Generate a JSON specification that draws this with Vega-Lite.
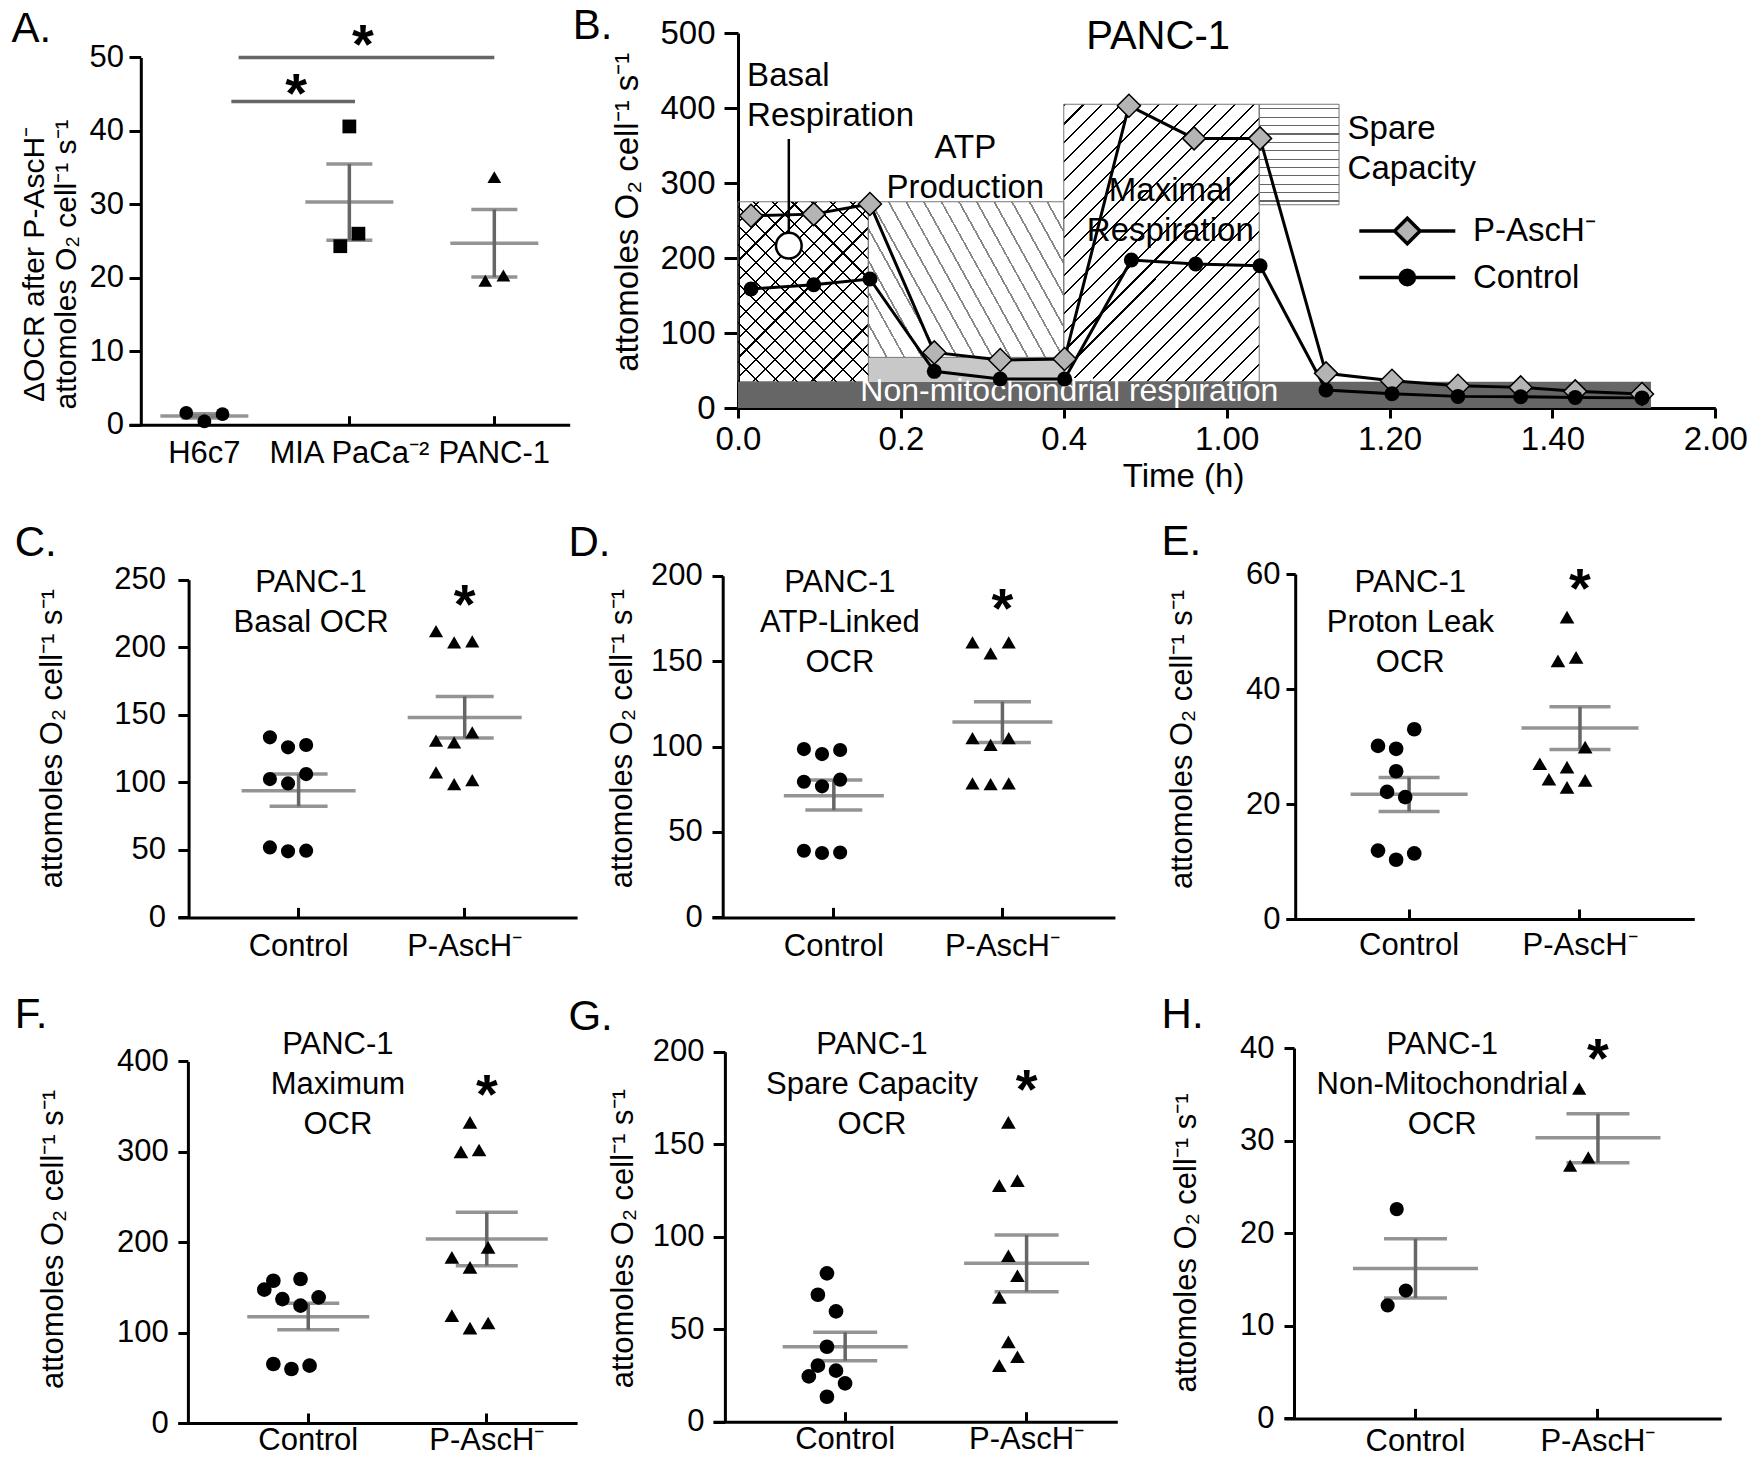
{
"$schema": "https://vega.github.io/schema/vega-lite/v6.json",
"background": "white",
"padding": {"left": 11, "top": 5, "right": 0, "bottom": 0},
"autosize": {"type": "pad"},
"config": {
 "font": "Liberation Sans",
 "view": {"stroke": null},
 "axis": {"domainColor": "#000", "domainWidth": 3, "tickColor": "#000", "tickWidth": 3, "labelColor": "#000", "titleColor": "#000", "labelFont": "Liberation Sans", "titleFont": "Liberation Sans", "titleFontWeight": "normal", "labelFontSize": 31, "titleFontSize": 31, "grid": false, "labelFlush": false, "labelOverlap": false, "labelBound": false, "labelAngle": 0},
 "axisY": {"titleAngle": -90, "titleAlign": "center", "titleBaseline": "alphabetic"},
 "axisX": {"titleBaseline": "alphabetic"},
 "title": {"font": "Liberation Sans", "fontSize": 42, "fontWeight": "normal", "color": "#000", "anchor": "start", "frame": "group", "baseline": "alphabetic"},
 "text": {"font": "Liberation Sans", "color": "#000"}
},
"resolve": {"scale": {"shape": "independent", "fill": "independent", "stroke": "independent"}, "legend": {"shape": "independent", "fill": "independent", "stroke": "independent"}},
"datasets": {
 "scatter": [
  {"panel":"A","group":"H6c7","col":-2,"value":1.6},
  {"panel":"A","group":"H6c7","col":0,"value":0.45},
  {"panel":"A","group":"H6c7","col":2,"value":1.45},
  {"panel":"A","group":"MIA PaCa⁻²","col":0,"value":40.6},
  {"panel":"A","group":"MIA PaCa⁻²","col":-1,"value":24.3},
  {"panel":"A","group":"MIA PaCa⁻²","col":1,"value":26.0},
  {"panel":"A","group":"PANC-1","col":0,"value":33.7},
  {"panel":"A","group":"PANC-1","col":-1,"value":19.6},
  {"panel":"A","group":"PANC-1","col":1,"value":20.3},
  {"panel":"C","group":"Control","col":-2,"value":133.3},
  {"panel":"C","group":"Control","col":0,"value":125.9},
  {"panel":"C","group":"Control","col":2,"value":127.6},
  {"panel":"C","group":"Control","col":-2,"value":102.4},
  {"panel":"C","group":"Control","col":0,"value":99.2},
  {"panel":"C","group":"Control","col":2,"value":106.1},
  {"panel":"C","group":"Control","col":-2,"value":51.8},
  {"panel":"C","group":"Control","col":0,"value":48.9},
  {"panel":"C","group":"Control","col":2,"value":49.4},
  {"panel":"C","group":"P-AscH⁻","col":-2,"value":212},
  {"panel":"C","group":"P-AscH⁻","col":0,"value":203.6},
  {"panel":"C","group":"P-AscH⁻","col":2,"value":204.3},
  {"panel":"C","group":"P-AscH⁻","col":-2,"value":130.8},
  {"panel":"C","group":"P-AscH⁻","col":0,"value":129.6},
  {"panel":"C","group":"P-AscH⁻","col":2,"value":137},
  {"panel":"C","group":"P-AscH⁻","col":-2,"value":107.4},
  {"panel":"C","group":"P-AscH⁻","col":0,"value":98.7},
  {"panel":"C","group":"P-AscH⁻","col":2,"value":101.7},
  {"panel":"D","group":"Control","col":-2,"value":98.5},
  {"panel":"D","group":"Control","col":0,"value":95.6},
  {"panel":"D","group":"Control","col":2,"value":98},
  {"panel":"D","group":"Control","col":-2,"value":79.4},
  {"panel":"D","group":"Control","col":0,"value":76.7},
  {"panel":"D","group":"Control","col":2,"value":80.6},
  {"panel":"D","group":"Control","col":-2,"value":39},
  {"panel":"D","group":"Control","col":0,"value":37.7},
  {"panel":"D","group":"Control","col":2,"value":38},
  {"panel":"D","group":"P-AscH⁻","col":-2,"value":161},
  {"panel":"D","group":"P-AscH⁻","col":0,"value":154.5},
  {"panel":"D","group":"P-AscH⁻","col":2,"value":161},
  {"panel":"D","group":"P-AscH⁻","col":-2,"value":105},
  {"panel":"D","group":"P-AscH⁻","col":0,"value":101},
  {"panel":"D","group":"P-AscH⁻","col":2,"value":105},
  {"panel":"D","group":"P-AscH⁻","col":-2,"value":78.4},
  {"panel":"D","group":"P-AscH⁻","col":0,"value":78},
  {"panel":"D","group":"P-AscH⁻","col":2,"value":78.4},
  {"panel":"E","group":"Control","col":-2,"value":30.1},
  {"panel":"E","group":"Control","col":0,"value":29.6},
  {"panel":"E","group":"Control","col":2,"value":33.0},
  {"panel":"E","group":"Control","col":0,"value":25.7},
  {"panel":"E","group":"Control","col":-1,"value":22.1},
  {"panel":"E","group":"Control","col":1,"value":21.2},
  {"panel":"E","group":"Control","col":-2,"value":11.9},
  {"panel":"E","group":"Control","col":0,"value":10.3},
  {"panel":"E","group":"Control","col":2,"value":11.4},
  {"panel":"E","group":"P-AscH⁻","col":0,"value":52.5},
  {"panel":"E","group":"P-AscH⁻","col":-1,"value":44.9},
  {"panel":"E","group":"P-AscH⁻","col":1,"value":45.5},
  {"panel":"E","group":"P-AscH⁻","col":2,"value":29.9},
  {"panel":"E","group":"P-AscH⁻","col":-3,"value":27},
  {"panel":"E","group":"P-AscH⁻","col":0,"value":26.4},
  {"panel":"E","group":"P-AscH⁻","col":-2,"value":24.3},
  {"panel":"E","group":"P-AscH⁻","col":0,"value":22.9},
  {"panel":"E","group":"P-AscH⁻","col":2,"value":24.1},
  {"panel":"F","group":"Control","col":-3,"value":147.5},
  {"panel":"F","group":"Control","col":-2,"value":157.4},
  {"panel":"F","group":"Control","col":1,"value":159.3},
  {"panel":"F","group":"Control","col":-1,"value":137.1},
  {"panel":"F","group":"Control","col":1,"value":129.8},
  {"panel":"F","group":"Control","col":3,"value":139},
  {"panel":"F","group":"Control","col":-2,"value":65.3},
  {"panel":"F","group":"Control","col":0,"value":59.7},
  {"panel":"F","group":"Control","col":2,"value":63.4},
  {"panel":"F","group":"P-AscH⁻","col":0,"value":332.5},
  {"panel":"F","group":"P-AscH⁻","col":-1,"value":300},
  {"panel":"F","group":"P-AscH⁻","col":1,"value":302},
  {"panel":"F","group":"P-AscH⁻","col":-2,"value":183.2},
  {"panel":"F","group":"P-AscH⁻","col":0,"value":172.2},
  {"panel":"F","group":"P-AscH⁻","col":2,"value":194.3},
  {"panel":"F","group":"P-AscH⁻","col":-2,"value":118.7},
  {"panel":"F","group":"P-AscH⁻","col":0,"value":105},
  {"panel":"F","group":"P-AscH⁻","col":2,"value":110.6},
  {"panel":"G","group":"Control","col":0,"value":80.2},
  {"panel":"G","group":"Control","col":-1,"value":68.6},
  {"panel":"G","group":"Control","col":1,"value":59.6},
  {"panel":"G","group":"Control","col":0,"value":40.5},
  {"panel":"G","group":"Control","col":-1,"value":30.3},
  {"panel":"G","group":"Control","col":1,"value":27.6},
  {"panel":"G","group":"Control","col":-2,"value":24.5},
  {"panel":"G","group":"Control","col":2,"value":20.7},
  {"panel":"G","group":"Control","col":0,"value":13.5},
  {"panel":"G","group":"P-AscH⁻","col":0,"value":161.8},
  {"panel":"G","group":"P-AscH⁻","col":-1,"value":127.6},
  {"panel":"G","group":"P-AscH⁻","col":1,"value":130.3},
  {"panel":"G","group":"P-AscH⁻","col":0,"value":89.7},
  {"panel":"G","group":"P-AscH⁻","col":1,"value":78.9},
  {"panel":"G","group":"P-AscH⁻","col":-1,"value":67.2},
  {"panel":"G","group":"P-AscH⁻","col":0,"value":43.2},
  {"panel":"G","group":"P-AscH⁻","col":1,"value":35.1},
  {"panel":"G","group":"P-AscH⁻","col":-1,"value":30.3},
  {"panel":"H","group":"Control","col":0,"value":22.6},
  {"panel":"H","group":"Control","col":1,"value":13.8},
  {"panel":"H","group":"Control","col":-1,"value":12.2},
  {"panel":"H","group":"P-AscH⁻","col":0,"value":35.6},
  {"panel":"H","group":"P-AscH⁻","col":-1,"value":27.3},
  {"panel":"H","group":"P-AscH⁻","col":1,"value":28.2}
 ],
 "summary": [
  {"panel":"A","group":"H6c7","mean":1.2,"lo":0.9,"hi":1.5},
  {"panel":"A","group":"MIA PaCa⁻²","mean":30.3,"lo":25.1,"hi":35.5},
  {"panel":"A","group":"PANC-1","mean":24.7,"lo":20.1,"hi":29.3},
  {"panel":"C","group":"Control","mean":93.8,"lo":82.2,"hi":106.1},
  {"panel":"C","group":"P-AscH⁻","mean":148,"lo":132.8,"hi":163.6},
  {"panel":"D","group":"Control","mean":71.2,"lo":62.8,"hi":80.4},
  {"panel":"D","group":"P-AscH⁻","mean":114.3,"lo":102.4,"hi":126.2},
  {"panel":"E","group":"Control","mean":21.7,"lo":18.7,"hi":24.6},
  {"panel":"E","group":"P-AscH⁻","mean":33.2,"lo":29.5,"hi":36.9},
  {"panel":"F","group":"Control","mean":117.6,"lo":103.2,"hi":132.4},
  {"panel":"F","group":"P-AscH⁻","mean":203.5,"lo":174,"hi":233},
  {"panel":"G","group":"Control","mean":40.5,"lo":33,"hi":48.3},
  {"panel":"G","group":"P-AscH⁻","mean":85.6,"lo":70.3,"hi":100.9},
  {"panel":"H","group":"Control","mean":16.2,"lo":13.0,"hi":19.4},
  {"panel":"H","group":"P-AscH⁻","mean":30.3,"lo":27.6,"hi":32.9}
 ],
 "B_ocr": [
  {"series":"P-AscH⁻","t":0.016,"ocr":256.4},
  {"series":"P-AscH⁻","t":0.093,"ocr":258.5},
  {"series":"P-AscH⁻","t":0.162,"ocr":272},
  {"series":"P-AscH⁻","t":0.241,"ocr":74.1},
  {"series":"P-AscH⁻","t":0.322,"ocr":64},
  {"series":"P-AscH⁻","t":0.401,"ocr":65.3},
  {"series":"P-AscH⁻","t":0.480,"ocr":403},
  {"series":"P-AscH⁻","t":0.560,"ocr":359.5},
  {"series":"P-AscH⁻","t":0.641,"ocr":359.5},
  {"series":"P-AscH⁻","t":0.722,"ocr":46.2},
  {"series":"P-AscH⁻","t":0.803,"ocr":36.4},
  {"series":"P-AscH⁻","t":0.884,"ocr":29.7},
  {"series":"P-AscH⁻","t":0.961,"ocr":27.5},
  {"series":"P-AscH⁻","t":1.028,"ocr":22.2},
  {"series":"P-AscH⁻","t":1.110,"ocr":18.7},
  {"series":"Control","t":0.016,"ocr":158.7},
  {"series":"Control","t":0.093,"ocr":164.4},
  {"series":"Control","t":0.162,"ocr":172},
  {"series":"Control","t":0.241,"ocr":48.9},
  {"series":"Control","t":0.322,"ocr":38.7},
  {"series":"Control","t":0.401,"ocr":38.7},
  {"series":"Control","t":0.483,"ocr":197.3},
  {"series":"Control","t":0.562,"ocr":192},
  {"series":"Control","t":0.641,"ocr":189.7},
  {"series":"Control","t":0.722,"ocr":24},
  {"series":"Control","t":0.803,"ocr":19},
  {"series":"Control","t":0.884,"ocr":15.5},
  {"series":"Control","t":0.961,"ocr":15},
  {"series":"Control","t":1.028,"ocr":14},
  {"series":"Control","t":1.110,"ocr":13.5}
 ],
 "B_regions": [
  {"region":"Non-mitochondrial respiration","x0":0,"x1":1.121,"y0":0,"y1":35},
  {"region":"ATP residual","x0":0.16,"x1":0.4,"y0":35,"y1":67.5},
  {"region":"Basal respiration","x0":0,"x1":0.16,"y0":35,"y1":275},
  {"region":"ATP production","x0":0.16,"x1":0.4,"y0":67.5,"y1":275},
  {"region":"Maximal respiration","x0":0.4,"x1":0.64,"y0":35,"y1":405},
  {"region":"Spare capacity","x0":0.64,"x1":0.738,"y0":271,"y1":405}
 ]
},
"columns": 3,
"spacing": 0,
"bounds": "flush",
"concat": [
 {
  "width": 582.1, "height": 541,
  "title": {"text": "A.", "dx": -117.6, "offset": -33},
  "layer": [
   {"data": {"name": "summary"}, "transform": [{"filter": "datum.panel === 'A'"}],
    "mark": {"type": "rule", "color": "#666", "strokeWidth": 3.5},
    "encoding": {
     "x": {"field": "group", "type": "nominal", "scale": {"type": "band", "domain": ["H6c7", "MIA PaCa⁻²", "PANC-1"], "range": [0, 440.7], "paddingInner": 0, "paddingOuter": 0.02}, "axis": {"title": null, "offset": -149.3, "tickSize": -9, "labelPadding": 22.7}},
     "y": {"field": "lo", "type": "quantitative", "scale": {"domain": [0, 50], "range": [391.7, 24.4], "nice": false}, "axis": {"values": [0, 10, 20, 30, 40, 50], "offset": -11.8, "tickSize": 11.8, "labelPadding": 5.4, "title": ["ΔOCR after P-AscH⁻", "attomoles O₂ cell⁻¹ s⁻¹"], "titleFontSize": 30, "titleLineHeight": 32, "titleX": -97.4, "titleY": 231}},
     "y2": {"field": "hi"}}},
   {"data": {"name": "summary"}, "transform": [{"filter": "datum.panel === 'A'"}], "mark": {"type": "tick", "color": "#666", "thickness": 3.5, "size": 88}, "encoding": {"x": {"field": "group", "type": "nominal"}, "y": {"field": "mean", "type": "quantitative"}}},
   {"data": {"name": "summary"}, "transform": [{"filter": "datum.panel === 'A'"}], "mark": {"type": "tick", "color": "#666", "thickness": 3.5, "size": 46}, "encoding": {"x": {"field": "group", "type": "nominal"}, "y": {"field": "lo", "type": "quantitative"}}},
   {"data": {"name": "summary"}, "transform": [{"filter": "datum.panel === 'A'"}], "mark": {"type": "tick", "color": "#666", "thickness": 3.5, "size": 46}, "encoding": {"x": {"field": "group", "type": "nominal"}, "y": {"field": "hi", "type": "quantitative"}}},
   {"data": {"values": [{}]}, "mark": {"type": "rule", "color": "#666", "strokeWidth": 3.5}, "encoding": {"x": {"datum": "H6c7", "type": "nominal", "bandPosition": 0.736}, "x2": {"datum": "PANC-1", "bandPosition": 0.5}, "y": {"datum": 50, "type": "quantitative"}}},
   {"data": {"values": [{}]}, "mark": {"type": "rule", "color": "#666", "strokeWidth": 3.5}, "encoding": {"x": {"datum": "H6c7", "type": "nominal", "bandPosition": 0.686}, "x2": {"datum": "MIA PaCa⁻²", "bandPosition": 0.539}, "y": {"datum": 44, "type": "quantitative"}}},
   {"data": {"name": "scatter"}, "transform": [{"filter": "datum.panel === 'A'"}], "mark": {"type": "point", "filled": true, "color": "#000", "opacity": 1, "size": 190}, "encoding": {"x": {"field": "group", "type": "nominal"}, "xOffset": {"field": "col", "type": "quantitative", "scale": {"domain": [-7, 7]}}, "y": {"field": "value", "type": "quantitative"}, "shape": {"field": "group", "type": "nominal", "scale": {"domain": ["H6c7", "MIA PaCa⁻²", "PANC-1"], "range": ["circle", "square", "triangle-up"]}, "legend": null}}},
   {"data": {"values": [{}]}, "mark": {"type": "text", "text": "*", "fontSize": 56, "fontWeight": "bold", "baseline": "alphabetic", "align": "center", "dy": 31}, "encoding": {"x": {"datum": "MIA PaCa⁻²", "type": "nominal", "bandPosition": 0.593}, "y": {"datum": 53.4, "type": "quantitative"}}},
   {"data": {"values": [{}]}, "mark": {"type": "text", "text": "*", "fontSize": 56, "fontWeight": "bold", "baseline": "alphabetic", "align": "center", "dy": 31}, "encoding": {"x": {"datum": "MIA PaCa⁻²", "type": "nominal", "bandPosition": 0.133}, "y": {"datum": 46.8, "type": "quantitative"}}}
  ]
 },
 {
  "width": 571.8, "height": 541,
  "title": {"text": "B.", "dx": -139.3, "offset": -31.1},
  "layer": [
   {"data": {"name": "B_regions"}, "transform": [{"filter": "datum.region === 'Non-mitochondrial respiration'"}], "mark": {"type": "rect", "fill": "#666"},
    "encoding": {
     "x": {"field": "x0", "type": "quantitative", "scale": {"domain": [0, 1.2], "range": [26, 1003.3], "nice": false, "zero": false}, "axis": {"values": [0, 0.2, 0.4, 0.6, 0.8, 1, 1.2], "labelExpr": "datum.value < 0.1 ? '0.0' : datum.value < 0.3 ? '0.2' : datum.value < 0.5 ? '0.4' : datum.value < 0.7 ? '1.00' : datum.value < 0.9 ? '1.20' : datum.value < 1.1 ? '1.40' : '2.00'", "offset": -166, "tickSize": 10, "labelPadding": 5.2, "labelFontSize": 33, "title": "Time (h)", "titleFontSize": 33, "titleX": 471.1, "titleY": 78.7}},
     "x2": {"field": "x1"},
     "y": {"field": "y0", "type": "quantitative", "scale": {"domain": [0, 500], "range": [375, 0], "nice": false}, "axis": {"values": [0, 100, 200, 300, 400, 500], "offset": -26, "tickSize": 14, "labelPadding": 9, "labelFontSize": 33, "title": "attomoles O₂ cell⁻¹ s⁻¹", "titleFontSize": 33, "titleX": -100.7, "titleY": 178.7}},
     "y2": {"field": "y1"}}},
   {"data": {"name": "B_regions"}, "transform": [{"filter": "datum.region === 'ATP residual'"}], "mark": {"type": "rect", "fill": "#c8c8c8"}, "encoding": {"x": {"field": "x0", "type": "quantitative"}, "x2": {"field": "x1"}, "y": {"field": "y0", "type": "quantitative"}, "y2": {"field": "y1"}}},
   {"data": {"name": "B_regions"}, "transform": [{"filter": "datum.region === 'Basal respiration'"}], "mark": {"type": "rect", "stroke": "#777", "strokeWidth": 1, "fill": {"gradient": "linear", "x1": 0, "y1": 0, "x2": 0.8188, "y2": 1.1311, "stops": [{"offset":0,"color":"#000"},{"offset":0.007,"color":"#000"},{"offset":0.007,"color":"#fff0"},{"offset":0.0625,"color":"#fff0"},{"offset":0.0625,"color":"#000"},{"offset":0.0695,"color":"#000"},{"offset":0.0695,"color":"#fff0"},{"offset":0.125,"color":"#fff0"},{"offset":0.125,"color":"#000"},{"offset":0.132,"color":"#000"},{"offset":0.132,"color":"#fff0"},{"offset":0.1875,"color":"#fff0"},{"offset":0.1875,"color":"#000"},{"offset":0.1945,"color":"#000"},{"offset":0.1945,"color":"#fff0"},{"offset":0.25,"color":"#fff0"},{"offset":0.25,"color":"#000"},{"offset":0.257,"color":"#000"},{"offset":0.257,"color":"#fff0"},{"offset":0.3125,"color":"#fff0"},{"offset":0.3125,"color":"#000"},{"offset":0.3195,"color":"#000"},{"offset":0.3195,"color":"#fff0"},{"offset":0.375,"color":"#fff0"},{"offset":0.375,"color":"#000"},{"offset":0.382,"color":"#000"},{"offset":0.382,"color":"#fff0"},{"offset":0.4375,"color":"#fff0"},{"offset":0.4375,"color":"#000"},{"offset":0.4445,"color":"#000"},{"offset":0.4445,"color":"#fff0"},{"offset":0.5,"color":"#fff0"},{"offset":0.5,"color":"#000"},{"offset":0.507,"color":"#000"},{"offset":0.507,"color":"#fff0"},{"offset":0.5625,"color":"#fff0"},{"offset":0.5625,"color":"#000"},{"offset":0.5695,"color":"#000"},{"offset":0.5695,"color":"#fff0"},{"offset":0.625,"color":"#fff0"},{"offset":0.625,"color":"#000"},{"offset":0.632,"color":"#000"},{"offset":0.632,"color":"#fff0"},{"offset":0.6875,"color":"#fff0"},{"offset":0.6875,"color":"#000"},{"offset":0.6945,"color":"#000"},{"offset":0.6945,"color":"#fff0"},{"offset":0.75,"color":"#fff0"},{"offset":0.75,"color":"#000"},{"offset":0.757,"color":"#000"},{"offset":0.757,"color":"#fff0"},{"offset":0.8125,"color":"#fff0"},{"offset":0.8125,"color":"#000"},{"offset":0.8195,"color":"#000"},{"offset":0.8195,"color":"#fff0"},{"offset":0.875,"color":"#fff0"},{"offset":0.875,"color":"#000"},{"offset":0.882,"color":"#000"},{"offset":0.882,"color":"#fff0"},{"offset":0.9375,"color":"#fff0"},{"offset":0.9375,"color":"#000"},{"offset":0.9445,"color":"#000"},{"offset":0.9445,"color":"#fff0"},{"offset":1,"color":"#fff0"}]}}, "encoding": {"x": {"field": "x0", "type": "quantitative"}, "x2": {"field": "x1"}, "y": {"field": "y0", "type": "quantitative"}, "y2": {"field": "y1"}}},
   {"data": {"name": "B_regions"}, "transform": [{"filter": "datum.region === 'Basal respiration'"}], "mark": {"type": "rect", "fill": {"gradient": "linear", "x1": 0, "y1": 1, "x2": 0.8188, "y2": -0.1311, "stops": [{"offset":0,"color":"#000"},{"offset":0.007,"color":"#000"},{"offset":0.007,"color":"#fff0"},{"offset":0.0625,"color":"#fff0"},{"offset":0.0625,"color":"#000"},{"offset":0.0695,"color":"#000"},{"offset":0.0695,"color":"#fff0"},{"offset":0.125,"color":"#fff0"},{"offset":0.125,"color":"#000"},{"offset":0.132,"color":"#000"},{"offset":0.132,"color":"#fff0"},{"offset":0.1875,"color":"#fff0"},{"offset":0.1875,"color":"#000"},{"offset":0.1945,"color":"#000"},{"offset":0.1945,"color":"#fff0"},{"offset":0.25,"color":"#fff0"},{"offset":0.25,"color":"#000"},{"offset":0.257,"color":"#000"},{"offset":0.257,"color":"#fff0"},{"offset":0.3125,"color":"#fff0"},{"offset":0.3125,"color":"#000"},{"offset":0.3195,"color":"#000"},{"offset":0.3195,"color":"#fff0"},{"offset":0.375,"color":"#fff0"},{"offset":0.375,"color":"#000"},{"offset":0.382,"color":"#000"},{"offset":0.382,"color":"#fff0"},{"offset":0.4375,"color":"#fff0"},{"offset":0.4375,"color":"#000"},{"offset":0.4445,"color":"#000"},{"offset":0.4445,"color":"#fff0"},{"offset":0.5,"color":"#fff0"},{"offset":0.5,"color":"#000"},{"offset":0.507,"color":"#000"},{"offset":0.507,"color":"#fff0"},{"offset":0.5625,"color":"#fff0"},{"offset":0.5625,"color":"#000"},{"offset":0.5695,"color":"#000"},{"offset":0.5695,"color":"#fff0"},{"offset":0.625,"color":"#fff0"},{"offset":0.625,"color":"#000"},{"offset":0.632,"color":"#000"},{"offset":0.632,"color":"#fff0"},{"offset":0.6875,"color":"#fff0"},{"offset":0.6875,"color":"#000"},{"offset":0.6945,"color":"#000"},{"offset":0.6945,"color":"#fff0"},{"offset":0.75,"color":"#fff0"},{"offset":0.75,"color":"#000"},{"offset":0.757,"color":"#000"},{"offset":0.757,"color":"#fff0"},{"offset":0.8125,"color":"#fff0"},{"offset":0.8125,"color":"#000"},{"offset":0.8195,"color":"#000"},{"offset":0.8195,"color":"#fff0"},{"offset":0.875,"color":"#fff0"},{"offset":0.875,"color":"#000"},{"offset":0.882,"color":"#000"},{"offset":0.882,"color":"#fff0"},{"offset":0.9375,"color":"#fff0"},{"offset":0.9375,"color":"#000"},{"offset":0.9445,"color":"#000"},{"offset":0.9445,"color":"#fff0"},{"offset":1,"color":"#fff0"}]}}, "encoding": {"x": {"field": "x0", "type": "quantitative"}, "x2": {"field": "x1"}, "y": {"field": "y0", "type": "quantitative"}, "y2": {"field": "y1"}}},
   {"data": {"name": "B_regions"}, "transform": [{"filter": "datum.region === 'ATP production'"}], "mark": {"type": "rect", "stroke": "#777", "strokeWidth": 1, "fill": {"gradient": "linear", "x1": 0, "y1": 1, "x2": 1.2063, "y2": 0.4666, "stops": [{"offset":0,"color":"#888"},{"offset":0.007,"color":"#888"},{"offset":0.007,"color":"#fff0"},{"offset":0.0625,"color":"#fff0"},{"offset":0.0625,"color":"#888"},{"offset":0.0695,"color":"#888"},{"offset":0.0695,"color":"#fff0"},{"offset":0.125,"color":"#fff0"},{"offset":0.125,"color":"#888"},{"offset":0.132,"color":"#888"},{"offset":0.132,"color":"#fff0"},{"offset":0.1875,"color":"#fff0"},{"offset":0.1875,"color":"#888"},{"offset":0.1945,"color":"#888"},{"offset":0.1945,"color":"#fff0"},{"offset":0.25,"color":"#fff0"},{"offset":0.25,"color":"#888"},{"offset":0.257,"color":"#888"},{"offset":0.257,"color":"#fff0"},{"offset":0.3125,"color":"#fff0"},{"offset":0.3125,"color":"#888"},{"offset":0.3195,"color":"#888"},{"offset":0.3195,"color":"#fff0"},{"offset":0.375,"color":"#fff0"},{"offset":0.375,"color":"#888"},{"offset":0.382,"color":"#888"},{"offset":0.382,"color":"#fff0"},{"offset":0.4375,"color":"#fff0"},{"offset":0.4375,"color":"#888"},{"offset":0.4445,"color":"#888"},{"offset":0.4445,"color":"#fff0"},{"offset":0.5,"color":"#fff0"},{"offset":0.5,"color":"#888"},{"offset":0.507,"color":"#888"},{"offset":0.507,"color":"#fff0"},{"offset":0.5625,"color":"#fff0"},{"offset":0.5625,"color":"#888"},{"offset":0.5695,"color":"#888"},{"offset":0.5695,"color":"#fff0"},{"offset":0.625,"color":"#fff0"},{"offset":0.625,"color":"#888"},{"offset":0.632,"color":"#888"},{"offset":0.632,"color":"#fff0"},{"offset":0.6875,"color":"#fff0"},{"offset":0.6875,"color":"#888"},{"offset":0.6945,"color":"#888"},{"offset":0.6945,"color":"#fff0"},{"offset":0.75,"color":"#fff0"},{"offset":0.75,"color":"#888"},{"offset":0.757,"color":"#888"},{"offset":0.757,"color":"#fff0"},{"offset":0.8125,"color":"#fff0"},{"offset":0.8125,"color":"#888"},{"offset":0.8195,"color":"#888"},{"offset":0.8195,"color":"#fff0"},{"offset":0.875,"color":"#fff0"},{"offset":0.875,"color":"#888"},{"offset":0.882,"color":"#888"},{"offset":0.882,"color":"#fff0"},{"offset":0.9375,"color":"#fff0"},{"offset":0.9375,"color":"#888"},{"offset":0.9445,"color":"#888"},{"offset":0.9445,"color":"#fff0"},{"offset":1,"color":"#fff0"}]}}, "encoding": {"x": {"field": "x0", "type": "quantitative"}, "x2": {"field": "x1"}, "y": {"field": "y0", "type": "quantitative"}, "y2": {"field": "y1"}}},
   {"data": {"name": "B_regions"}, "transform": [{"filter": "datum.region === 'Maximal respiration'"}], "mark": {"type": "rect", "stroke": "#777", "strokeWidth": 1, "fill": {"gradient": "linear", "x1": 0, "y1": 0, "x2": 0.8025, "y2": 1.1391, "stops": [{"offset":0,"color":"#000"},{"offset":0.0045,"color":"#000"},{"offset":0.0045,"color":"#fff0"},{"offset":0.04,"color":"#fff0"},{"offset":0.04,"color":"#000"},{"offset":0.0445,"color":"#000"},{"offset":0.0445,"color":"#fff0"},{"offset":0.08,"color":"#fff0"},{"offset":0.08,"color":"#000"},{"offset":0.0845,"color":"#000"},{"offset":0.0845,"color":"#fff0"},{"offset":0.12,"color":"#fff0"},{"offset":0.12,"color":"#000"},{"offset":0.1245,"color":"#000"},{"offset":0.1245,"color":"#fff0"},{"offset":0.16,"color":"#fff0"},{"offset":0.16,"color":"#000"},{"offset":0.1645,"color":"#000"},{"offset":0.1645,"color":"#fff0"},{"offset":0.2,"color":"#fff0"},{"offset":0.2,"color":"#000"},{"offset":0.2045,"color":"#000"},{"offset":0.2045,"color":"#fff0"},{"offset":0.24,"color":"#fff0"},{"offset":0.24,"color":"#000"},{"offset":0.2445,"color":"#000"},{"offset":0.2445,"color":"#fff0"},{"offset":0.28,"color":"#fff0"},{"offset":0.28,"color":"#000"},{"offset":0.2845,"color":"#000"},{"offset":0.2845,"color":"#fff0"},{"offset":0.32,"color":"#fff0"},{"offset":0.32,"color":"#000"},{"offset":0.3245,"color":"#000"},{"offset":0.3245,"color":"#fff0"},{"offset":0.36,"color":"#fff0"},{"offset":0.36,"color":"#000"},{"offset":0.3645,"color":"#000"},{"offset":0.3645,"color":"#fff0"},{"offset":0.4,"color":"#fff0"},{"offset":0.4,"color":"#000"},{"offset":0.4045,"color":"#000"},{"offset":0.4045,"color":"#fff0"},{"offset":0.44,"color":"#fff0"},{"offset":0.44,"color":"#000"},{"offset":0.4445,"color":"#000"},{"offset":0.4445,"color":"#fff0"},{"offset":0.48,"color":"#fff0"},{"offset":0.48,"color":"#000"},{"offset":0.4845,"color":"#000"},{"offset":0.4845,"color":"#fff0"},{"offset":0.52,"color":"#fff0"},{"offset":0.52,"color":"#000"},{"offset":0.5245,"color":"#000"},{"offset":0.5245,"color":"#fff0"},{"offset":0.56,"color":"#fff0"},{"offset":0.56,"color":"#000"},{"offset":0.5645,"color":"#000"},{"offset":0.5645,"color":"#fff0"},{"offset":0.6,"color":"#fff0"},{"offset":0.6,"color":"#000"},{"offset":0.6045,"color":"#000"},{"offset":0.6045,"color":"#fff0"},{"offset":0.64,"color":"#fff0"},{"offset":0.64,"color":"#000"},{"offset":0.6445,"color":"#000"},{"offset":0.6445,"color":"#fff0"},{"offset":0.68,"color":"#fff0"},{"offset":0.68,"color":"#000"},{"offset":0.6845,"color":"#000"},{"offset":0.6845,"color":"#fff0"},{"offset":0.72,"color":"#fff0"},{"offset":0.72,"color":"#000"},{"offset":0.7245,"color":"#000"},{"offset":0.7245,"color":"#fff0"},{"offset":0.76,"color":"#fff0"},{"offset":0.76,"color":"#000"},{"offset":0.7645,"color":"#000"},{"offset":0.7645,"color":"#fff0"},{"offset":0.8,"color":"#fff0"},{"offset":0.8,"color":"#000"},{"offset":0.8045,"color":"#000"},{"offset":0.8045,"color":"#fff0"},{"offset":0.84,"color":"#fff0"},{"offset":0.84,"color":"#000"},{"offset":0.8445,"color":"#000"},{"offset":0.8445,"color":"#fff0"},{"offset":0.88,"color":"#fff0"},{"offset":0.88,"color":"#000"},{"offset":0.8845,"color":"#000"},{"offset":0.8845,"color":"#fff0"},{"offset":0.92,"color":"#fff0"},{"offset":0.92,"color":"#000"},{"offset":0.9245,"color":"#000"},{"offset":0.9245,"color":"#fff0"},{"offset":0.96,"color":"#fff0"},{"offset":0.96,"color":"#000"},{"offset":0.9645,"color":"#000"},{"offset":0.9645,"color":"#fff0"},{"offset":1,"color":"#fff0"}]}}, "encoding": {"x": {"field": "x0", "type": "quantitative"}, "x2": {"field": "x1"}, "y": {"field": "y0", "type": "quantitative"}, "y2": {"field": "y1"}}},
   {"data": {"name": "B_regions"}, "transform": [{"filter": "datum.region === 'Spare capacity'"}], "mark": {"type": "rect", "stroke": "#777", "strokeWidth": 1, "fill": {"gradient": "linear", "x1": 0, "y1": 0, "x2": 0, "y2": 1, "stops": [{"offset":0,"color":"#fff0"},{"offset":0.04,"color":"#fff0"},{"offset":0.04,"color":"#666"},{"offset":0.052,"color":"#666"},{"offset":0.052,"color":"#fff0"},{"offset":0.1233,"color":"#fff0"},{"offset":0.1233,"color":"#666"},{"offset":0.1353,"color":"#666"},{"offset":0.1353,"color":"#fff0"},{"offset":0.2067,"color":"#fff0"},{"offset":0.2067,"color":"#666"},{"offset":0.2187,"color":"#666"},{"offset":0.2187,"color":"#fff0"},{"offset":0.29,"color":"#fff0"},{"offset":0.29,"color":"#666"},{"offset":0.302,"color":"#666"},{"offset":0.302,"color":"#fff0"},{"offset":0.3733,"color":"#fff0"},{"offset":0.3733,"color":"#666"},{"offset":0.3853,"color":"#666"},{"offset":0.3853,"color":"#fff0"},{"offset":0.4567,"color":"#fff0"},{"offset":0.4567,"color":"#666"},{"offset":0.4687,"color":"#666"},{"offset":0.4687,"color":"#fff0"},{"offset":0.54,"color":"#fff0"},{"offset":0.54,"color":"#666"},{"offset":0.552,"color":"#666"},{"offset":0.552,"color":"#fff0"},{"offset":0.6233,"color":"#fff0"},{"offset":0.6233,"color":"#666"},{"offset":0.6353,"color":"#666"},{"offset":0.6353,"color":"#fff0"},{"offset":0.7067,"color":"#fff0"},{"offset":0.7067,"color":"#666"},{"offset":0.7187,"color":"#666"},{"offset":0.7187,"color":"#fff0"},{"offset":0.79,"color":"#fff0"},{"offset":0.79,"color":"#666"},{"offset":0.802,"color":"#666"},{"offset":0.802,"color":"#fff0"},{"offset":0.8733,"color":"#fff0"},{"offset":0.8733,"color":"#666"},{"offset":0.8853,"color":"#666"},{"offset":0.8853,"color":"#fff0"},{"offset":0.9567,"color":"#fff0"},{"offset":0.9567,"color":"#666"},{"offset":0.9687,"color":"#666"},{"offset":0.9687,"color":"#fff0"},{"offset":1,"color":"#fff0"}]}}, "encoding": {"x": {"field": "x0", "type": "quantitative"}, "x2": {"field": "x1"}, "y": {"field": "y0", "type": "quantitative"}, "y2": {"field": "y1"}}},
   {"data": {"values": [{}]}, "mark": {"type": "text", "text": "Non-mitochondrial respiration", "fontSize": 32, "color": "#fff", "align": "center", "baseline": "alphabetic"}, "encoding": {"x": {"datum": 0.4068, "type": "quantitative"}, "y": {"datum": 9.7, "type": "quantitative"}}},
   {"data": {"name": "B_ocr"}, "mark": {"type": "line", "color": "#000", "strokeWidth": 3}, "encoding": {"x": {"field": "t", "type": "quantitative"}, "y": {"field": "ocr", "type": "quantitative"}, "detail": {"field": "series", "type": "nominal"}}},
   {"data": {"name": "B_ocr"}, "transform": [{"filter": "datum.series === 'P-AscH⁻'"}], "mark": {"type": "point", "shape": "diamond", "size": 529, "filled": true, "fill": "#b4b4b4", "stroke": "#000", "strokeWidth": 1.5, "opacity": 1}, "encoding": {"x": {"field": "t", "type": "quantitative"}, "y": {"field": "ocr", "type": "quantitative"}}},
   {"data": {"name": "B_ocr"}, "transform": [{"filter": "datum.series === 'Control'"}], "mark": {"type": "point", "shape": "circle", "size": 225, "filled": true, "fill": "#000", "opacity": 1}, "encoding": {"x": {"field": "t", "type": "quantitative"}, "y": {"field": "ocr", "type": "quantitative"}}},
   {"data": {"values": [{}]}, "mark": {"type": "rule", "color": "#000", "strokeWidth": 2.5}, "encoding": {"x": {"datum": 0.0624, "type": "quantitative"}, "y": {"datum": 233.4, "type": "quantitative"}, "y2": {"datum": 358.7}}},
   {"data": {"values": [{}]}, "mark": {"type": "point", "shape": "circle", "size": 660, "filled": true, "fill": "#fff", "stroke": "#000", "strokeWidth": 2.5, "opacity": 1}, "encoding": {"x": {"datum": 0.0624, "type": "quantitative"}, "y": {"datum": 216.4, "type": "quantitative"}}},
   {"data": {"values": [{}]}, "mark": {"type": "text", "text": ["Basal", "Respiration"], "fontSize": 33, "lineHeight": 40, "align": "left", "baseline": "alphabetic"}, "encoding": {"x": {"datum": 0.0112, "type": "quantitative"}, "y": {"datum": 429.7, "type": "quantitative"}}},
   {"data": {"values": [{}]}, "mark": {"type": "text", "text": ["ATP", "Production"], "fontSize": 33, "lineHeight": 40, "align": "center", "baseline": "alphabetic"}, "encoding": {"x": {"datum": 0.2791, "type": "quantitative"}, "y": {"datum": 332.8, "type": "quantitative"}}},
   {"data": {"values": [{}]}, "mark": {"type": "text", "text": ["Maximal", "Respiration"], "fontSize": 33, "lineHeight": 40, "align": "center", "baseline": "alphabetic"}, "encoding": {"x": {"datum": 0.5308, "type": "quantitative"}, "y": {"datum": 276.4, "type": "quantitative"}}},
   {"data": {"values": [{}]}, "mark": {"type": "text", "text": ["Spare", "Capacity"], "fontSize": 33, "lineHeight": 40, "align": "left", "baseline": "alphabetic"}, "encoding": {"x": {"datum": 0.7485, "type": "quantitative"}, "y": {"datum": 358.7, "type": "quantitative"}}},
   {"data": {"values": [{}]}, "mark": {"type": "text", "text": "PANC-1", "fontSize": 40, "align": "center", "baseline": "alphabetic"}, "encoding": {"x": {"datum": 0.5158, "type": "quantitative"}, "y": {"datum": 478.7, "type": "quantitative"}}},
   {"data": {"name": "B_ocr"}, "transform": [{"filter": "false"}], "mark": {"type": "point", "filled": true, "opacity": 1, "strokeWidth": 3.5},
    "encoding": {
     "shape": {"field": "series", "type": "nominal", "scale": {"domain": ["P-AscH⁻", "Control"], "range": ["M-3,0L-0.8,0M0.8,0L3,0M-0.8,0L0,-0.8L0.8,0L0,0.8Z", "M-3,0L-0.45,0M0.45,0L3,0M-0.45,0A0.45,0.45,0,1,1,0.45,0A0.45,0.45,0,1,1,-0.45,0Z"]}, "legend": {"orient": "none", "legendX": 677.3, "legendY": 180, "title": null, "labelFontSize": 33, "labelFont": "Liberation Sans", "labelColor": "#000", "symbolSize": 1024, "symbolStrokeWidth": 3.5, "labelOffset": 47.7, "rowPadding": 8.5, "padding": 0, "labelLimit": 300}},
     "fill": {"field": "series", "type": "nominal", "scale": {"domain": ["P-AscH⁻", "Control"], "range": ["#b4b4b4", "#000"]}, "legend": {"orient": "none", "legendX": 677.3, "legendY": 180, "title": null, "labelFontSize": 33, "labelFont": "Liberation Sans", "labelColor": "#000", "symbolSize": 1024, "symbolStrokeWidth": 3.5, "labelOffset": 47.7, "rowPadding": 8.5, "padding": 0, "labelLimit": 300}},
     "stroke": {"field": "series", "type": "nominal", "scale": {"domain": ["P-AscH⁻", "Control"], "range": ["#000", "#000"]}, "legend": {"orient": "none", "legendX": 677.3, "legendY": 180, "title": null, "labelFontSize": 33, "labelFont": "Liberation Sans", "labelColor": "#000", "symbolSize": 1024, "symbolStrokeWidth": 3.5, "labelOffset": 47.7, "rowPadding": 8.5, "padding": 0, "labelLimit": 300}}}}
  ]
 },
 {"width": 437.5, "height": 10, "data": {"values": [{}]}, "mark": {"type": "point", "opacity": 0}},
 {
  "width": 582.1, "height": 474,
  "title": {"text": "C.", "dx": -114.3, "offset": -1.6},
  "layer": [
   {"data": {"name": "summary"}, "transform": [{"filter": "datum.panel === 'C'"}], "mark": {"type": "rule", "color": "#666", "strokeWidth": 3.5},
    "encoding": {
     "x": {"field": "group", "type": "nominal", "scale": {"type": "band", "domain": ["Control", "P-AscH⁻"], "range": [48.9, 448.1], "paddingInner": 0, "paddingOuter": 0.2017, "align": 0.562}, "axis": {"title": null, "offset": -130.6, "tickSize": -10, "labelPadding": 23.7}},
     "y": {"field": "lo", "type": "quantitative", "scale": {"domain": [0, 250], "range": [343.4, 5.7], "nice": false}, "axis": {"values": [0, 50, 100, 150, 200, 250], "offset": -59.6, "tickSize": 10.7, "labelPadding": 12.5, "title": "attomoles O₂ cell⁻¹ s⁻¹", "titleX": -127.2, "titleY": 164.2}},
     "y2": {"field": "hi"}}},
   {"data": {"name": "summary"}, "transform": [{"filter": "datum.panel === 'C'"}], "mark": {"type": "tick", "color": "#666", "thickness": 3.5, "size": 114}, "encoding": {"x": {"field": "group", "type": "nominal"}, "y": {"field": "mean", "type": "quantitative"}}},
   {"data": {"name": "summary"}, "transform": [{"filter": "datum.panel === 'C'"}], "mark": {"type": "tick", "color": "#666", "thickness": 3.5, "size": 58}, "encoding": {"x": {"field": "group", "type": "nominal"}, "y": {"field": "lo", "type": "quantitative"}}},
   {"data": {"name": "summary"}, "transform": [{"filter": "datum.panel === 'C'"}], "mark": {"type": "tick", "color": "#666", "thickness": 3.5, "size": 58}, "encoding": {"x": {"field": "group", "type": "nominal"}, "y": {"field": "hi", "type": "quantitative"}}},
   {"data": {"name": "scatter"}, "transform": [{"filter": "datum.panel === 'C'"}], "mark": {"type": "point", "filled": true, "color": "#000", "opacity": 1, "size": 200}, "encoding": {"x": {"field": "group", "type": "nominal"}, "xOffset": {"field": "col", "type": "quantitative", "scale": {"domain": [-8, 8]}}, "y": {"field": "value", "type": "quantitative"}, "shape": {"field": "group", "type": "nominal", "scale": {"domain": ["Control", "P-AscH⁻"], "range": ["circle", "triangle-up"]}, "legend": null}}},
   {"data": {"values": [{}]}, "mark": {"type": "text", "text": "*", "fontSize": 56, "fontWeight": "bold", "baseline": "alphabetic", "align": "center", "dy": 31}, "encoding": {"x": {"datum": "P-AscH⁻", "type": "nominal"}, "y": {"datum": 240.6, "type": "quantitative"}}},
   {"data": {"values": [{}]}, "mark": {"type": "text", "text": ["PANC-1", "Basal OCR"], "fontSize": 31, "lineHeight": 40, "align": "center", "baseline": "alphabetic"}, "encoding": {"x": {"datum": "Control", "type": "nominal", "bandPosition": 0.575}, "y": {"datum": 240.6, "type": "quantitative"}}}
  ]
 },
 {
  "width": 571.8, "height": 474,
  "title": {"text": "D.", "dx": -143.6, "offset": -5.6},
  "layer": [
   {"data": {"name": "summary"}, "transform": [{"filter": "datum.panel === 'D'"}], "mark": {"type": "rule", "color": "#666", "strokeWidth": 3.5},
    "encoding": {
     "x": {"field": "group", "type": "nominal", "scale": {"type": "band", "domain": ["Control", "P-AscH⁻"], "range": [0, 402.9], "paddingInner": 0, "paddingOuter": 0.195, "align": 0.571}, "axis": {"title": null, "offset": -130.6, "tickSize": -10, "labelPadding": 23.7}},
     "y": {"field": "lo", "type": "quantitative", "scale": {"domain": [0, 200], "range": [343.4, 1.7], "nice": false}, "axis": {"values": [0, 50, 100, 150, 200], "offset": -10.7, "tickSize": 10.7, "labelPadding": 9.7, "title": "attomoles O₂ cell⁻¹ s⁻¹", "titleX": -91.4, "titleY": 164.2}},
     "y2": {"field": "hi"}}},
   {"data": {"name": "summary"}, "transform": [{"filter": "datum.panel === 'D'"}], "mark": {"type": "tick", "color": "#666", "thickness": 3.5, "size": 100}, "encoding": {"x": {"field": "group", "type": "nominal"}, "y": {"field": "mean", "type": "quantitative"}}},
   {"data": {"name": "summary"}, "transform": [{"filter": "datum.panel === 'D'"}], "mark": {"type": "tick", "color": "#666", "thickness": 3.5, "size": 57}, "encoding": {"x": {"field": "group", "type": "nominal"}, "y": {"field": "lo", "type": "quantitative"}}},
   {"data": {"name": "summary"}, "transform": [{"filter": "datum.panel === 'D'"}], "mark": {"type": "tick", "color": "#666", "thickness": 3.5, "size": 57}, "encoding": {"x": {"field": "group", "type": "nominal"}, "y": {"field": "hi", "type": "quantitative"}}},
   {"data": {"name": "scatter"}, "transform": [{"filter": "datum.panel === 'D'"}], "mark": {"type": "point", "filled": true, "color": "#000", "opacity": 1, "size": 200}, "encoding": {"x": {"field": "group", "type": "nominal"}, "xOffset": {"field": "col", "type": "quantitative", "scale": {"domain": [-8, 8]}}, "y": {"field": "value", "type": "quantitative"}, "shape": {"field": "group", "type": "nominal", "scale": {"domain": ["Control", "P-AscH⁻"], "range": ["circle", "triangle-up"]}, "legend": null}}},
   {"data": {"values": [{}]}, "mark": {"type": "text", "text": "*", "fontSize": 56, "fontWeight": "bold", "baseline": "alphabetic", "align": "center", "dy": 31}, "encoding": {"x": {"datum": "P-AscH⁻", "type": "nominal"}, "y": {"datum": 188.3, "type": "quantitative"}}},
   {"data": {"values": [{}]}, "mark": {"type": "text", "text": ["PANC-1", "ATP-Linked", "OCR"], "fontSize": 31, "lineHeight": 40, "align": "center", "baseline": "alphabetic"}, "encoding": {"x": {"datum": "Control", "type": "nominal", "bandPosition": 0.536}, "y": {"datum": 190.2, "type": "quantitative"}}}
  ]
 },
 {
  "width": 437.5, "height": 474,
  "title": {"text": "E.", "dx": -122.4, "offset": -5.6},
  "layer": [
   {"data": {"name": "summary"}, "transform": [{"filter": "datum.panel === 'E'"}], "mark": {"type": "rule", "color": "#666", "strokeWidth": 3.5},
    "encoding": {
     "x": {"field": "group", "type": "nominal", "scale": {"type": "band", "domain": ["Control", "P-AscH⁻"], "range": [2, 410.3], "paddingInner": 0, "paddingOuter": 0.1946, "align": 0.566}, "axis": {"title": null, "offset": -129, "tickSize": -10, "labelPadding": 21}},
     "y": {"field": "lo", "type": "quantitative", "scale": {"domain": [0, 60], "range": [345, 0], "nice": false}, "axis": {"values": [0, 20, 40, 60], "offset": -11.2, "tickSize": 9.2, "labelPadding": 6, "title": "attomoles O₂ cell⁻¹ s⁻¹", "titleX": -103.7, "titleY": 165}},
     "y2": {"field": "hi"}}},
   {"data": {"name": "summary"}, "transform": [{"filter": "datum.panel === 'E'"}], "mark": {"type": "tick", "color": "#666", "thickness": 3.5, "size": 117}, "encoding": {"x": {"field": "group", "type": "nominal"}, "y": {"field": "mean", "type": "quantitative"}}},
   {"data": {"name": "summary"}, "transform": [{"filter": "datum.panel === 'E'"}], "mark": {"type": "tick", "color": "#666", "thickness": 3.5, "size": 61}, "encoding": {"x": {"field": "group", "type": "nominal"}, "y": {"field": "lo", "type": "quantitative"}}},
   {"data": {"name": "summary"}, "transform": [{"filter": "datum.panel === 'E'"}], "mark": {"type": "tick", "color": "#666", "thickness": 3.5, "size": 61}, "encoding": {"x": {"field": "group", "type": "nominal"}, "y": {"field": "hi", "type": "quantitative"}}},
   {"data": {"name": "scatter"}, "transform": [{"filter": "datum.panel === 'E'"}], "mark": {"type": "point", "filled": true, "color": "#000", "opacity": 1, "size": 215}, "encoding": {"x": {"field": "group", "type": "nominal"}, "xOffset": {"field": "col", "type": "quantitative", "scale": {"domain": [-8, 8]}}, "y": {"field": "value", "type": "quantitative"}, "shape": {"field": "group", "type": "nominal", "scale": {"domain": ["Control", "P-AscH⁻"], "range": ["circle", "triangle-up"]}, "legend": null}}},
   {"data": {"values": [{}]}, "mark": {"type": "text", "text": "*", "fontSize": 56, "fontWeight": "bold", "baseline": "alphabetic", "align": "center", "dy": 31}, "encoding": {"x": {"datum": "P-AscH⁻", "type": "nominal"}, "y": {"datum": 59.7, "type": "quantitative"}}},
   {"data": {"values": [{}]}, "mark": {"type": "text", "text": ["PANC-1", "Proton Leak", "OCR"], "fontSize": 31, "lineHeight": 40, "align": "center", "baseline": "alphabetic"}, "encoding": {"x": {"datum": "Control", "type": "nominal", "bandPosition": 0.507}, "y": {"datum": 56.8, "type": "quantitative"}}}
  ]
 },
 {
  "width": 582.1, "height": 375,
  "title": {"text": "F.", "dx": -114.3, "offset": -8.1},
  "layer": [
   {"data": {"name": "summary"}, "transform": [{"filter": "datum.panel === 'F'"}], "mark": {"type": "rule", "color": "#666", "strokeWidth": 3.5},
    "encoding": {
     "x": {"field": "group", "type": "nominal", "scale": {"type": "band", "domain": ["Control", "P-AscH⁻"], "range": [48.9, 448.1], "paddingInner": 0, "paddingOuter": 0.118, "align": 0.975}, "axis": {"title": null, "offset": 0, "tickSize": -10, "labelPadding": 12.7}},
     "y": {"field": "lo", "type": "quantitative", "scale": {"domain": [0, 400], "range": [375, 13.4], "nice": false}, "axis": {"values": [0, 100, 200, 300, 400], "offset": -58.9, "tickSize": 10, "labelPadding": 9.6, "title": "attomoles O₂ cell⁻¹ s⁻¹", "titleX": -125, "titleY": 191}},
     "y2": {"field": "hi"}}},
   {"data": {"name": "summary"}, "transform": [{"filter": "datum.panel === 'F'"}], "mark": {"type": "tick", "color": "#666", "thickness": 3.5, "size": 122}, "encoding": {"x": {"field": "group", "type": "nominal"}, "y": {"field": "mean", "type": "quantitative"}}},
   {"data": {"name": "summary"}, "transform": [{"filter": "datum.panel === 'F'"}], "mark": {"type": "tick", "color": "#666", "thickness": 3.5, "size": 62}, "encoding": {"x": {"field": "group", "type": "nominal"}, "y": {"field": "lo", "type": "quantitative"}}},
   {"data": {"name": "summary"}, "transform": [{"filter": "datum.panel === 'F'"}], "mark": {"type": "tick", "color": "#666", "thickness": 3.5, "size": 62}, "encoding": {"x": {"field": "group", "type": "nominal"}, "y": {"field": "hi", "type": "quantitative"}}},
   {"data": {"name": "scatter"}, "transform": [{"filter": "datum.panel === 'F'"}], "mark": {"type": "point", "filled": true, "color": "#000", "opacity": 1, "size": 215}, "encoding": {"x": {"field": "group", "type": "nominal"}, "xOffset": {"field": "col", "type": "quantitative", "scale": {"domain": [-8, 8]}}, "y": {"field": "value", "type": "quantitative"}, "shape": {"field": "group", "type": "nominal", "scale": {"domain": ["Control", "P-AscH⁻"], "range": ["circle", "triangle-up"]}, "legend": null}}},
   {"data": {"values": [{}]}, "mark": {"type": "text", "text": "*", "fontSize": 56, "fontWeight": "bold", "baseline": "alphabetic", "align": "center", "dy": 31}, "encoding": {"x": {"datum": "P-AscH⁻", "type": "nominal"}, "y": {"datum": 376.8, "type": "quantitative"}}},
   {"data": {"values": [{}]}, "mark": {"type": "text", "text": ["PANC-1", "Maximum", "OCR"], "fontSize": 31, "lineHeight": 40, "align": "center", "baseline": "alphabetic"}, "encoding": {"x": {"datum": "Control", "type": "nominal", "bandPosition": 0.666}, "y": {"datum": 408.2, "type": "quantitative"}}}
  ]
 },
 {
  "width": 571.8, "height": 375,
  "title": {"text": "G.", "dx": -143.6, "offset": -9.6},
  "layer": [
   {"data": {"name": "summary"}, "transform": [{"filter": "datum.panel === 'G'"}], "mark": {"type": "rule", "color": "#666", "strokeWidth": 3.5},
    "encoding": {
     "x": {"field": "group", "type": "nominal", "scale": {"type": "band", "domain": ["Control", "P-AscH⁻"], "range": [1.1, 405.3], "paddingInner": 0, "paddingOuter": 0.114, "align": 1}, "axis": {"title": null, "offset": -1.3, "tickSize": -10, "labelPadding": 12.7}},
     "y": {"field": "lo", "type": "quantitative", "scale": {"domain": [0, 200], "range": [373.7, 3.7], "nice": false}, "axis": {"values": [0, 50, 100, 150, 200], "offset": -12.9, "tickSize": 11.8, "labelPadding": 9, "title": "attomoles O₂ cell⁻¹ s⁻¹", "titleX": -92.6, "titleY": 190.2}},
     "y2": {"field": "hi"}}},
   {"data": {"name": "summary"}, "transform": [{"filter": "datum.panel === 'G'"}], "mark": {"type": "tick", "color": "#666", "thickness": 3.5, "size": 125}, "encoding": {"x": {"field": "group", "type": "nominal"}, "y": {"field": "mean", "type": "quantitative"}}},
   {"data": {"name": "summary"}, "transform": [{"filter": "datum.panel === 'G'"}], "mark": {"type": "tick", "color": "#666", "thickness": 3.5, "size": 64}, "encoding": {"x": {"field": "group", "type": "nominal"}, "y": {"field": "lo", "type": "quantitative"}}},
   {"data": {"name": "summary"}, "transform": [{"filter": "datum.panel === 'G'"}], "mark": {"type": "tick", "color": "#666", "thickness": 3.5, "size": 64}, "encoding": {"x": {"field": "group", "type": "nominal"}, "y": {"field": "hi", "type": "quantitative"}}},
   {"data": {"name": "scatter"}, "transform": [{"filter": "datum.panel === 'G'"}], "mark": {"type": "point", "filled": true, "color": "#000", "opacity": 1, "size": 215}, "encoding": {"x": {"field": "group", "type": "nominal"}, "xOffset": {"field": "col", "type": "quantitative", "scale": {"domain": [-8, 8]}}, "y": {"field": "value", "type": "quantitative"}, "shape": {"field": "group", "type": "nominal", "scale": {"domain": ["Control", "P-AscH⁻"], "range": ["circle", "triangle-up"]}, "legend": null}}},
   {"data": {"values": [{}]}, "mark": {"type": "text", "text": "*", "fontSize": 56, "fontWeight": "bold", "baseline": "alphabetic", "align": "center", "dy": 31}, "encoding": {"x": {"datum": "P-AscH⁻", "type": "nominal"}, "y": {"datum": 186.1, "type": "quantitative"}}},
   {"data": {"values": [{}]}, "mark": {"type": "text", "text": ["PANC-1", "Spare Capacity", "OCR"], "fontSize": 31, "lineHeight": 40, "align": "center", "baseline": "alphabetic"}, "encoding": {"x": {"datum": "Control", "type": "nominal", "bandPosition": 0.648}, "y": {"datum": 198.8, "type": "quantitative"}}}
  ]
 },
 {
  "width": 437.5, "height": 375,
  "title": {"text": "H.", "dx": -122.4, "offset": -7.6},
  "layer": [
   {"data": {"name": "summary"}, "transform": [{"filter": "datum.panel === 'H'"}], "mark": {"type": "rule", "color": "#666", "strokeWidth": 3.5},
    "encoding": {
     "x": {"field": "group", "type": "nominal", "scale": {"type": "band", "domain": ["Control", "P-AscH⁻"], "range": [0, 437.2], "paddingInner": 0, "paddingOuter": 0.198, "align": 0.557}, "axis": {"title": null, "offset": -4.6, "tickSize": -10, "labelPadding": 17.7}},
     "y": {"field": "lo", "type": "quantitative", "scale": {"domain": [0, 40], "range": [370.4, 0], "nice": false}, "axis": {"values": [0, 10, 20, 30, 40], "offset": -10, "tickSize": 10, "labelPadding": 10, "title": "attomoles O₂ cell⁻¹ s⁻¹", "titleX": -98.5, "titleY": 194.4}},
     "y2": {"field": "hi"}}},
   {"data": {"name": "summary"}, "transform": [{"filter": "datum.panel === 'H'"}], "mark": {"type": "tick", "color": "#666", "thickness": 3.5, "size": 125}, "encoding": {"x": {"field": "group", "type": "nominal"}, "y": {"field": "mean", "type": "quantitative"}}},
   {"data": {"name": "summary"}, "transform": [{"filter": "datum.panel === 'H'"}], "mark": {"type": "tick", "color": "#666", "thickness": 3.5, "size": 63}, "encoding": {"x": {"field": "group", "type": "nominal"}, "y": {"field": "lo", "type": "quantitative"}}},
   {"data": {"name": "summary"}, "transform": [{"filter": "datum.panel === 'H'"}], "mark": {"type": "tick", "color": "#666", "thickness": 3.5, "size": 63}, "encoding": {"x": {"field": "group", "type": "nominal"}, "y": {"field": "hi", "type": "quantitative"}}},
   {"data": {"name": "scatter"}, "transform": [{"filter": "datum.panel === 'H'"}], "mark": {"type": "point", "filled": true, "color": "#000", "opacity": 1, "size": 200}, "encoding": {"x": {"field": "group", "type": "nominal"}, "xOffset": {"field": "col", "type": "quantitative", "scale": {"domain": [-8, 8]}}, "y": {"field": "value", "type": "quantitative"}, "shape": {"field": "group", "type": "nominal", "scale": {"domain": ["Control", "P-AscH⁻"], "range": ["circle", "triangle-up"]}, "legend": null}}},
   {"data": {"values": [{}]}, "mark": {"type": "text", "text": "*", "fontSize": 56, "fontWeight": "bold", "baseline": "alphabetic", "align": "center", "dy": 31}, "encoding": {"x": {"datum": "P-AscH⁻", "type": "nominal"}, "y": {"datum": 40.25, "type": "quantitative"}}},
   {"data": {"values": [{}]}, "mark": {"type": "text", "text": ["PANC-1", "Non-Mitochondrial", "OCR"], "fontSize": 31, "lineHeight": 40, "align": "center", "baseline": "alphabetic"}, "encoding": {"x": {"datum": "Control", "type": "nominal", "bandPosition": 0.647}, "y": {"datum": 39.35, "type": "quantitative"}}}
  ]
 }
]
}
